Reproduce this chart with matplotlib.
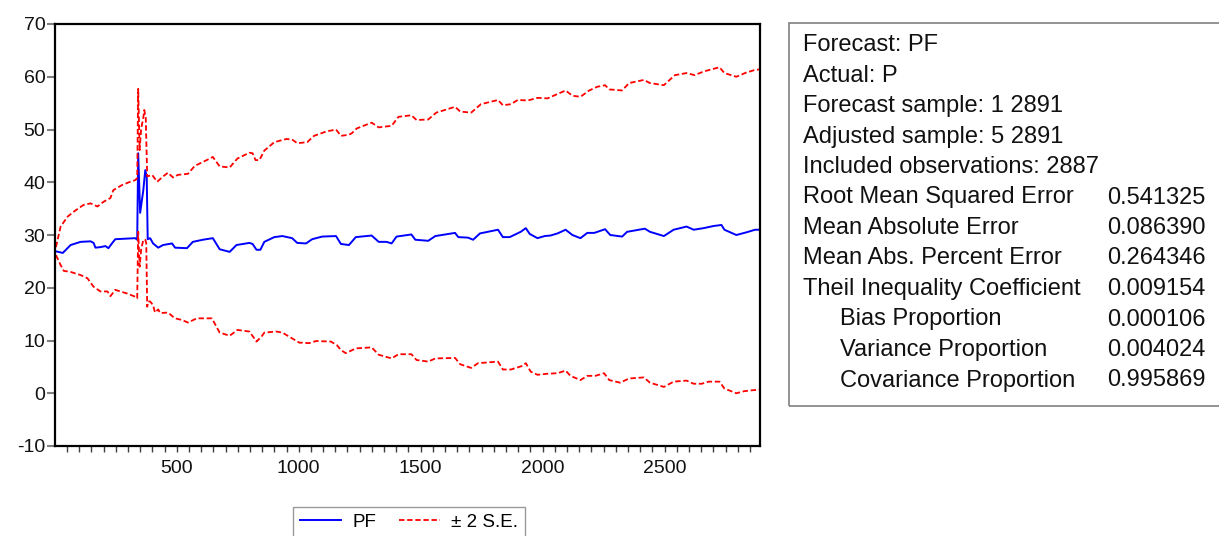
import matplotlib
matplotlib.use('Agg')
import matplotlib.pyplot as plt
from matplotlib.lines import Line2D
from matplotlib.patches import Rectangle

plt.rcParams['font.family'] = ['Liberation Sans', 'DejaVu Sans']
plt.rcParams['axes.unicode_minus'] = False

# forecast PF
pf_obs = [5, 33, 65, 106, 147, 159, 167, 187, 208, 220, 236, 248, 289, 330, 338,
          342, 350, 363, 371, 377, 381, 391, 403, 424, 444, 481, 493, 542, 566, 607,
          648, 676, 717, 745, 798, 811, 827, 843, 859, 900, 933, 973, 994, 1030, 1055,
          1096, 1153, 1173, 1206, 1234, 1299, 1328, 1360, 1381, 1401, 1462, 1478, 1531,
          1560, 1641, 1654, 1694, 1715, 1743, 1817, 1837, 1865, 1910, 1931, 1947, 1979,
          2008, 2032, 2061, 2094, 2122, 2155, 2183, 2212, 2256, 2277, 2326, 2346, 2419,
          2440, 2497, 2537, 2590, 2619, 2660, 2700, 2733, 2745, 2794, 2835, 2871, 2891]
pf_val = [26.9, 26.6, 28.1, 28.7, 28.8, 28.5, 27.6, 27.7, 27.9, 27.5, 28.5, 29.2, 29.3, 29.4, 29.1,
          45.5, 34.2, 38.5, 42.3, 41.0, 29.2, 29.4, 28.4, 27.6, 28.1, 28.4, 27.6, 27.5, 28.7, 29.1,
          29.4, 27.3, 26.8, 28.1, 28.5, 28.3, 27.2, 27.2, 28.7, 29.6, 29.8, 29.4, 28.5, 28.4, 29.2,
          29.7, 29.8, 28.3, 28.1, 29.6, 29.9, 28.7, 28.7, 28.4, 29.7, 30.1, 29.1, 28.9,
          29.8, 30.4, 29.6, 29.5, 29.1, 30.3, 31.0, 29.6, 29.6, 30.6, 31.3, 30.2, 29.4,
          29.8, 29.9, 30.3, 31.0, 30.0, 29.4, 30.4, 30.4, 31.1, 30.0, 29.7, 30.6, 31.2,
          30.6, 29.8, 31.0, 31.6, 31.0, 31.3, 31.7, 31.9, 31.0, 30.0, 30.5, 31.0, 31.0]

# upper band (PF + 2 S.E.)
up_obs = [5, 24, 53, 86, 118, 147, 175, 200, 228, 240, 277, 310, 330, 338, 342, 348, 354,
          363, 367, 373, 379, 399, 420, 444, 464, 485, 505, 546, 574, 623, 648, 676, 717,
          749, 798, 811, 823, 839, 859, 900, 949, 973, 994, 1035, 1063, 1112, 1153, 1173,
          1206, 1218, 1238, 1299, 1328, 1381, 1409, 1462, 1483, 1531, 1564, 1641, 1662,
          1707, 1747, 1817, 1837, 1870, 1898, 1939, 1979, 2020, 2094, 2122, 2155, 2191,
          2224, 2256, 2273, 2326, 2354, 2415, 2440, 2497, 2542, 2590, 2623, 2660, 2725,
          2745, 2794, 2835, 2871, 2891]
up_val = [27.7, 31.6, 33.5, 34.7, 35.7, 36.0, 35.4, 36.3, 37.0, 38.5, 39.5, 40.1, 40.4, 40.8, 57.7, 46.1, 50.1,
          52.2, 53.7, 52.2, 41.1, 41.4, 40.1, 41.1, 41.8, 40.9, 41.4, 41.6, 43.1, 44.2, 44.8, 43.0, 42.8,
          44.5, 45.6, 45.5, 44.2, 44.2, 46.0, 47.6, 48.2, 48.1, 47.4, 47.6, 48.8, 49.6, 50.0, 48.8,
          49.0, 49.3, 50.2, 51.3, 50.4, 50.7, 52.4, 52.7, 51.8, 51.9, 53.2, 54.3, 53.4,
          53.2, 54.8, 55.6, 54.6, 54.8, 55.6, 55.5, 56.0, 55.9, 57.4, 56.4, 56.2, 57.4,
          58.1, 58.4, 57.6, 57.4, 58.8, 59.4, 58.8, 58.4, 60.3, 60.7, 60.3, 61.0, 61.8,
          60.7, 60.0, 60.8, 61.3, 61.4]

# lower band (PF - 2 S.E.)
lo_obs = [5, 24, 37, 65, 106, 134, 159, 187, 216, 228, 248, 297, 330, 338, 342, 348, 354,
          363, 371, 375, 379, 383, 391, 403, 411, 424, 432, 464, 493, 521, 546, 582, 644,
          676, 717, 749, 798, 827, 847, 859, 908, 933, 973, 1002, 1043, 1071, 1132, 1157,
          1173, 1193, 1234, 1299, 1328, 1381, 1409, 1462, 1483, 1531, 1560, 1641, 1662,
          1707, 1735, 1817, 1837, 1870, 1918, 1931, 1951, 1979, 2020, 2061, 2094, 2114,
          2155, 2183, 2216, 2252, 2273, 2318, 2354, 2415, 2440, 2497, 2537, 2590, 2619,
          2652, 2680, 2725, 2745, 2794, 2827, 2867, 2891]
lo_val = [26.2, 24.3, 23.2, 23.0, 22.4, 21.8, 20.2, 19.3, 19.3, 18.4, 19.6, 18.9, 18.3, 18.0, 30.6, 24.0, 27.2,
          29.1, 29.1, 28.5, 16.4, 17.4, 17.4, 16.7, 15.3, 15.9, 15.2, 15.3, 14.2, 13.9, 13.4, 14.2, 14.2,
          11.5, 10.9, 12.0, 11.7, 9.8, 10.7, 11.5, 11.7, 11.5, 10.4, 9.6, 9.5, 9.9, 9.8, 9.1,
          8.2, 7.6, 8.5, 8.7, 7.3, 6.6, 7.4, 7.4, 6.3, 6.0, 6.6, 6.7, 5.5,
          4.8, 5.7, 6.0, 4.5, 4.5, 5.2, 5.7, 4.1, 3.5, 3.7, 3.8, 4.3, 3.3,
          2.5, 3.3, 3.3, 3.8, 2.5, 2.0, 2.8, 3.0, 2.0, 1.2, 2.2, 2.4, 1.8,
          1.8, 2.2, 2.2, 0.9, 0.0, 0.4, 0.6, 0.7]

x_major = [500, 1000, 1500, 2000, 2500]
y_ticks = [-10, 0, 10, 20, 30, 40, 50, 60, 70]
legend_labels = ['PF', '\u00b1 2 S.E.']

stat_labels = ['Forecast: PF', 'Actual: P', 'Forecast sample: 1 2891',
               'Adjusted sample: 5 2891', 'Included observations: 2887',
               'Root Mean Squared Error', 'Mean Absolute Error',
               'Mean Abs. Percent Error', 'Theil Inequality Coefficient',
               'Bias Proportion', 'Variance Proportion', 'Covariance Proportion']
stat_values = ['', '', '', '', '', '0.541325', '0.086390', '0.264346',
               '0.009154', '0.000106', '0.004024', '0.995869']
stat_indent = [False] * 9 + [True] * 3

W, H = 1219, 536
fig = plt.figure(figsize=(W / 100, H / 100), dpi=100)
ax = fig.add_axes([55 / W, 1 - 446 / H, 705 / W, 422 / H])

dash = (0, (3.0, 1.5))
ax.plot(pf_obs, pf_val, color='#0000ff', lw=1.4)
ax.plot(up_obs, up_val, color='#ff0000', lw=1.3, ls=dash)
ax.plot(lo_obs, lo_val, color='#ff0000', lw=1.3, ls=dash)

ax.set_xlim(1, 2891)
ax.set_ylim(-10, 70)
ax.set_yticks(y_ticks)
ax.set_xticks(x_major)
ax.set_xticks(range(50, 2891, 50), minor=True)
ax.tick_params(axis='y', direction='out', length=6, width=1.5, color='#808080',
               labelsize=14, pad=1, labelcolor='#111111')
ax.tick_params(axis='x', which='both', direction='out', length=4, width=1,
               color='#404040', labelsize=14, pad=6, labelcolor='#111111')
for s in ax.spines.values():
    s.set_linewidth(1.6)
    s.set_color('black')

handles = [Line2D([], [], color='#0000ff', lw=1.4),
           Line2D([], [], color='#ff0000', lw=1.3, ls=dash)]
leg = fig.legend(handles, legend_labels, loc='upper center',
                 bbox_to_anchor=(409 / W, 1 - 507 / H), ncol=2, frameon=True,
                 fancybox=False, edgecolor='#808080', fontsize=13.5,
                 handlelength=2.2, handletextpad=0.6, columnspacing=1.2,
                 borderpad=0.35, borderaxespad=0)
leg.get_frame().set_linewidth(1.0)

# statistics box on the right
fig.patches.append(Rectangle((789 / W, 1 - 406 / H), (1240 - 789) / W, 383 / H,
                             transform=fig.transFigure, fill=False,
                             edgecolor='#808080', lw=1.2))
for i, (lab, val) in enumerate(zip(stat_labels, stat_values)):
    y = 1 - (45 + 30.5 * i) / H
    x = 840 if stat_indent[i] else 803
    fig.text(x / W, y, lab, fontsize=17, va='center', ha='left', color='#111111')
    if val:
        fig.text(1206 / W, y, val, fontsize=17, va='center', ha='right', color='#111111')

fig.savefig('out.png', dpi=100)
